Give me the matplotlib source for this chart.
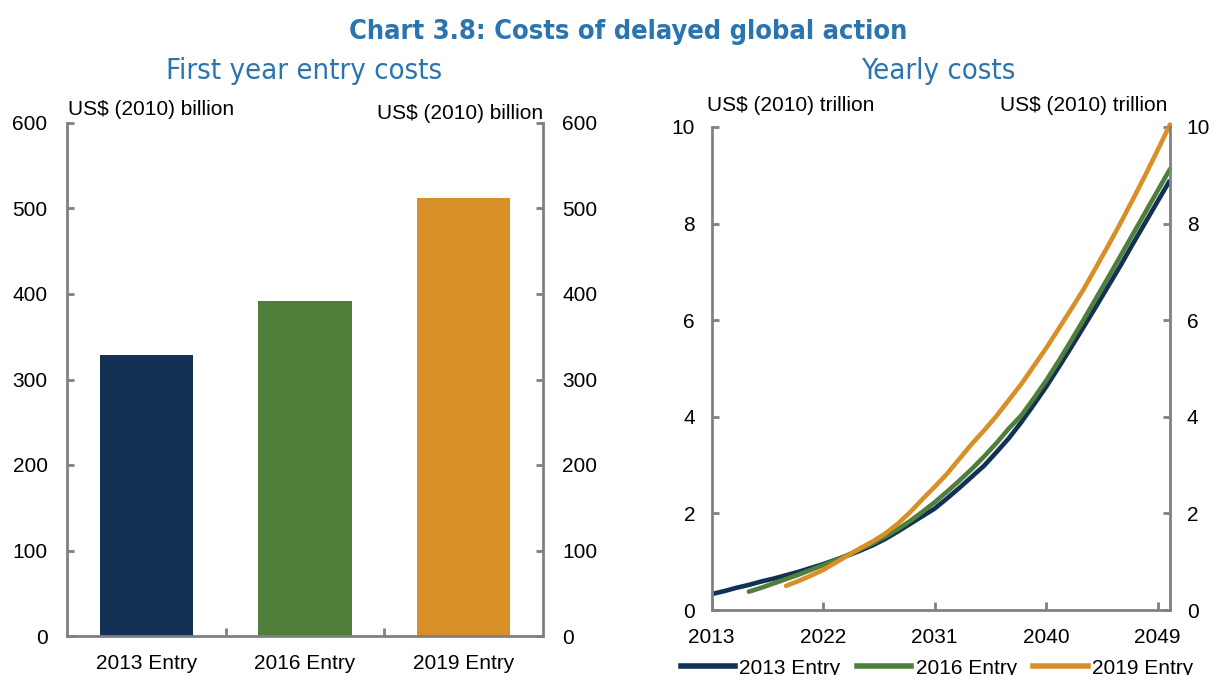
import matplotlib
matplotlib.use("Agg")
import matplotlib.pyplot as plt
from matplotlib.lines import Line2D

# ---------------- data ----------------
bar_categories = ["2013 Entry", "2016 Entry", "2019 Entry"]
bar_values = [329, 392, 512]

years_2013 = list(range(2013, 2051))
cost_2013 = [0.33, 0.39, 0.46, 0.52, 0.59, 0.65, 0.72, 0.79, 0.87, 0.95,
             1.04, 1.13, 1.23, 1.34, 1.47, 1.62, 1.78, 1.94, 2.10, 2.31,
             2.53, 2.76, 2.99, 3.27, 3.56, 3.89, 4.25, 4.62, 5.02, 5.43,
             5.85, 6.27, 6.70, 7.13, 7.58, 8.02, 8.46, 8.90]

years_2016 = list(range(2016, 2051))
cost_2016 = [0.38, 0.46, 0.55, 0.64, 0.73, 0.83, 0.93, 1.03, 1.14, 1.26,
             1.38, 1.52, 1.67, 1.84, 2.03, 2.23, 2.45, 2.68, 2.92, 3.18,
             3.46, 3.76, 4.03, 4.38, 4.75, 5.15, 5.57, 6.00, 6.44, 6.88,
             7.33, 7.78, 8.23, 8.68, 9.13]

years_2019 = list(range(2019, 2051))
cost_2019 = [0.50, 0.60, 0.71, 0.83, 0.98, 1.13, 1.28, 1.42, 1.58, 1.78,
             2.02, 2.29, 2.55, 2.82, 3.13, 3.44, 3.72, 4.02, 4.35, 4.68,
             5.05, 5.42, 5.82, 6.22, 6.63, 7.08, 7.54, 8.01, 8.50, 9.00,
             9.52, 10.05]

line_labels = ["2013 Entry", "2016 Entry", "2019 Entry"]
x_ticks = [2013, 2022, 2031, 2040, 2049]
bar_yticks = [0, 100, 200, 300, 400, 500, 600]
line_yticks = [0, 2, 4, 6, 8, 10]

# ---------------- style ----------------
colors = ["#133155", "#4F7F3A", "#D98F28"]
title_color = "#2A74B0"
spine_color = "#808080"
plt.rcParams["font.family"] = ["Liberation Sans", "DejaVu Sans"]
FS = 15

fig = plt.figure(figsize=(12.15, 6.75), dpi=100)

fig.text(628 / 1215, 0.953, "Chart 3.8: Costs of delayed global action", ha="center", va="center",
         fontsize=19.5, fontweight="bold", fontstretch="condensed", color=title_color,
         family=["DejaVu Sans"])
fig.text(304.5 / 1215, 0.895, "First year entry costs", ha="center", va="center",
         fontsize=21, fontstretch="condensed", color=title_color, family=["DejaVu Sans"])
fig.text(938.5 / 1215, 0.895, "Yearly costs", ha="center", va="center",
         fontsize=21, fontstretch="condensed", color=title_color, family=["DejaVu Sans"])


def style_spines(ax):
    ax.spines["top"].set_visible(False)
    for s in ["left", "right", "bottom"]:
        ax.spines[s].set_color(spine_color)
        ax.spines[s].set_linewidth(2)


# ---------------- bar chart ----------------
ax1 = fig.add_axes([67 / 1215, 39 / 675, 476 / 1215, 513 / 675])
xpos = list(range(len(bar_categories)))
ax1.bar(xpos, bar_values, width=0.59, color=colors)
ax1.set_xlim(-0.5, 2.5)
ax1.set_ylim(0, 600)
style_spines(ax1)
ax1.set_xticks(xpos)
ax1.set_xticklabels(bar_categories, fontsize=FS)
ax1.set_xticks([0.5, 1.5], minor=True)
ax1.tick_params(axis="x", which="major", length=0, pad=13)
ax1.tick_params(axis="x", which="minor", direction="in", length=6, width=2, color=spine_color)
ax1.set_yticks(bar_yticks)
ax1.tick_params(axis="y", direction="in", length=5, width=2, color=spine_color,
                labelsize=FS, pad=14, left=True, right=True, labelleft=True, labelright=True)
ax1.text(0.002, 1.008, "US$ (2010) billion", transform=ax1.transAxes, ha="left", va="bottom", fontsize=FS)
ax1.text(1.0, 1.0, "US$ (2010) billion", transform=ax1.transAxes, ha="right", va="bottom", fontsize=FS)

# ---------------- line chart ----------------
ax2 = fig.add_axes([711.7 / 1215, 65 / 675, 458.3 / 1215, 483 / 675])
ax2.plot(years_2013, cost_2013, color=colors[0], lw=3.3, clip_on=False, solid_capstyle="butt")
ax2.plot(years_2016, cost_2016, color=colors[1], lw=3.3, clip_on=False, solid_capstyle="round")
ax2.plot(years_2019, cost_2019, color=colors[2], lw=3.3, clip_on=False, solid_capstyle="round")
ax2.set_xlim(2013, 2050)
ax2.set_ylim(0, 10)
style_spines(ax2)
ax2.set_xticks(x_ticks)
ax2.set_xticklabels([str(t) for t in x_ticks], fontsize=FS)
ax2.tick_params(axis="x", direction="in", length=6, width=2, color=spine_color, pad=13)
ax2.set_yticks(line_yticks)
ax2.tick_params(axis="y", direction="in", length=5, width=2, color=spine_color,
                labelsize=FS, pad=12, left=True, right=True, labelleft=True, labelright=True)
ax2.text(-0.01, 1.025, "US$ (2010) trillion", transform=ax2.transAxes, ha="left", va="bottom", fontsize=FS)
ax2.text(0.995, 1.025, "US$ (2010) trillion", transform=ax2.transAxes, ha="right", va="bottom", fontsize=FS)

handles = [Line2D([0], [0], color=c, lw=4) for c in colors]
fig.legend(handles, line_labels, loc="center", bbox_to_anchor=(937 / 1215, 7 / 675),
           ncol=3, frameon=False, fontsize=FS, handlelength=2.6, handletextpad=0.2,
           columnspacing=0.8, borderaxespad=0, borderpad=0)

fig.savefig("out.png", dpi=100)
